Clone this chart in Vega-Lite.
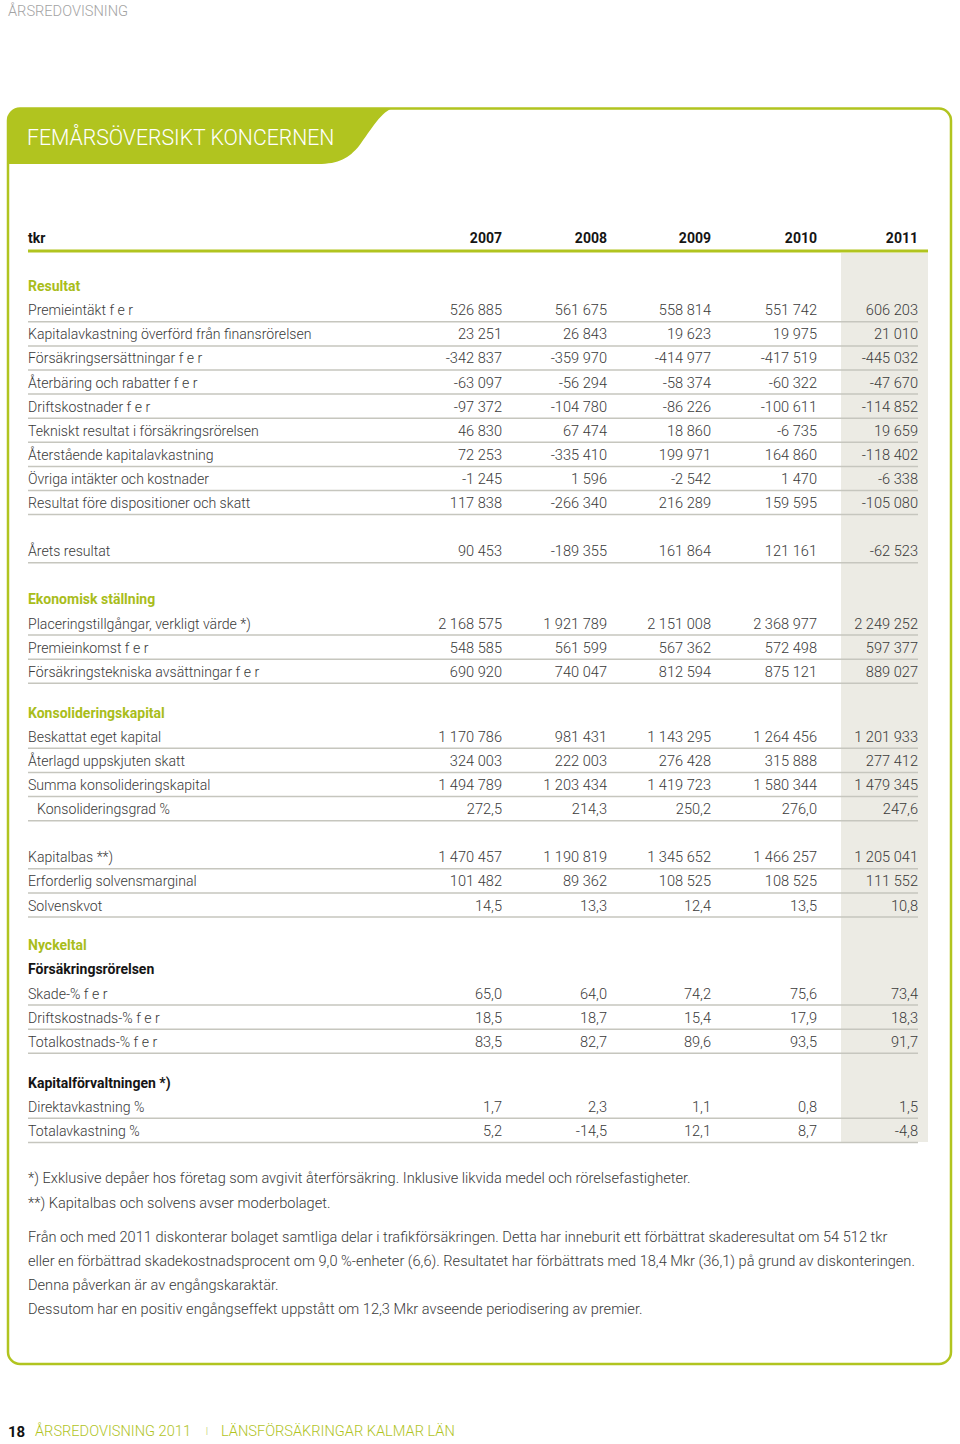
{
  "$schema": "https://vega.github.io/schema/vega-lite/v6.json",
  "width": 960,
  "height": 1444,
  "padding": 0,
  "autosize": {"type": "none"},
  "background": "white",
  "config": {
    "view": {"stroke": null},
    "axis": {"disable": true},
    "legend": {"disable": true},
    "text": {"font": "Roboto"},
    "locale": {"number": {"decimal": ",", "thousands": " ", "grouping": [3], "currency": ["", " kr"], "minus": "-"}}
  },
  "datasets": {
    "rows": [
      {"line": 0, "label": "tkr", "type": "header"},
      {"line": 2, "label": "Resultat", "type": "section"},
      {"line": 3, "label": "Premieintäkt f e r", "type": "item"},
      {"line": 4, "label": "Kapitalavkastning överförd från finansrörelsen", "type": "item"},
      {"line": 5, "label": "Försäkringsersättningar f e r", "type": "item"},
      {"line": 6, "label": "Återbäring och rabatter f e r", "type": "item"},
      {"line": 7, "label": "Driftskostnader f e r", "type": "item"},
      {"line": 8, "label": "Tekniskt resultat i försäkringsrörelsen", "type": "item"},
      {"line": 9, "label": "Återstående kapitalavkastning", "type": "item"},
      {"line": 10, "label": "Övriga intäkter och kostnader", "type": "item"},
      {"line": 11, "label": "Resultat före dispositioner och skatt", "type": "item"},
      {"line": 13, "label": "Årets resultat", "type": "item"},
      {"line": 15, "label": "Ekonomisk ställning", "type": "section"},
      {"line": 16, "label": "Placeringstillgångar, verkligt värde *)", "type": "item"},
      {"line": 17, "label": "Premieinkomst f e r", "type": "item"},
      {"line": 18, "label": "Försäkringstekniska avsättningar f e r", "type": "item"},
      {"line": 19.7, "label": "Konsolideringskapital", "type": "section"},
      {"line": 20.7, "label": "Beskattat eget kapital", "type": "item"},
      {"line": 21.7, "label": "Återlagd uppskjuten skatt", "type": "item"},
      {"line": 22.7, "label": "Summa konsolideringskapital", "type": "item"},
      {"line": 23.7, "label": "Konsolideringsgrad %", "type": "subitem"},
      {"line": 25.7, "label": "Kapitalbas **)", "type": "item"},
      {"line": 26.7, "label": "Erforderlig solvensmarginal", "type": "item"},
      {"line": 27.7, "label": "Solvenskvot", "type": "item"},
      {"line": 29.35, "label": "Nyckeltal", "type": "section"},
      {"line": 30.35, "label": "Försäkringsrörelsen", "type": "subhead"},
      {"line": 31.35, "label": "Skade-% f e r", "type": "item"},
      {"line": 32.35, "label": "Driftskostnads-% f e r", "type": "item"},
      {"line": 33.35, "label": "Totalkostnads-% f e r", "type": "item"},
      {"line": 35.05, "label": "Kapitalförvaltningen *)", "type": "subhead"},
      {"line": 36.05, "label": "Direktavkastning %", "type": "item"},
      {"line": 37.05, "label": "Totalavkastning %", "type": "item"}
    ],
    "years": [{"year": 2007}, {"year": 2008}, {"year": 2009}, {"year": 2010}, {"year": 2011}],
    "cells": [
      {"line": 3, "year": 2007, "value": 526885, "unit": "tkr"},
      {"line": 3, "year": 2008, "value": 561675, "unit": "tkr"},
      {"line": 3, "year": 2009, "value": 558814, "unit": "tkr"},
      {"line": 3, "year": 2010, "value": 551742, "unit": "tkr"},
      {"line": 3, "year": 2011, "value": 606203, "unit": "tkr"},
      {"line": 4, "year": 2007, "value": 23251, "unit": "tkr"},
      {"line": 4, "year": 2008, "value": 26843, "unit": "tkr"},
      {"line": 4, "year": 2009, "value": 19623, "unit": "tkr"},
      {"line": 4, "year": 2010, "value": 19975, "unit": "tkr"},
      {"line": 4, "year": 2011, "value": 21010, "unit": "tkr"},
      {"line": 5, "year": 2007, "value": -342837, "unit": "tkr"},
      {"line": 5, "year": 2008, "value": -359970, "unit": "tkr"},
      {"line": 5, "year": 2009, "value": -414977, "unit": "tkr"},
      {"line": 5, "year": 2010, "value": -417519, "unit": "tkr"},
      {"line": 5, "year": 2011, "value": -445032, "unit": "tkr"},
      {"line": 6, "year": 2007, "value": -63097, "unit": "tkr"},
      {"line": 6, "year": 2008, "value": -56294, "unit": "tkr"},
      {"line": 6, "year": 2009, "value": -58374, "unit": "tkr"},
      {"line": 6, "year": 2010, "value": -60322, "unit": "tkr"},
      {"line": 6, "year": 2011, "value": -47670, "unit": "tkr"},
      {"line": 7, "year": 2007, "value": -97372, "unit": "tkr"},
      {"line": 7, "year": 2008, "value": -104780, "unit": "tkr"},
      {"line": 7, "year": 2009, "value": -86226, "unit": "tkr"},
      {"line": 7, "year": 2010, "value": -100611, "unit": "tkr"},
      {"line": 7, "year": 2011, "value": -114852, "unit": "tkr"},
      {"line": 8, "year": 2007, "value": 46830, "unit": "tkr"},
      {"line": 8, "year": 2008, "value": 67474, "unit": "tkr"},
      {"line": 8, "year": 2009, "value": 18860, "unit": "tkr"},
      {"line": 8, "year": 2010, "value": -6735, "unit": "tkr"},
      {"line": 8, "year": 2011, "value": 19659, "unit": "tkr"},
      {"line": 9, "year": 2007, "value": 72253, "unit": "tkr"},
      {"line": 9, "year": 2008, "value": -335410, "unit": "tkr"},
      {"line": 9, "year": 2009, "value": 199971, "unit": "tkr"},
      {"line": 9, "year": 2010, "value": 164860, "unit": "tkr"},
      {"line": 9, "year": 2011, "value": -118402, "unit": "tkr"},
      {"line": 10, "year": 2007, "value": -1245, "unit": "tkr"},
      {"line": 10, "year": 2008, "value": 1596, "unit": "tkr"},
      {"line": 10, "year": 2009, "value": -2542, "unit": "tkr"},
      {"line": 10, "year": 2010, "value": 1470, "unit": "tkr"},
      {"line": 10, "year": 2011, "value": -6338, "unit": "tkr"},
      {"line": 11, "year": 2007, "value": 117838, "unit": "tkr"},
      {"line": 11, "year": 2008, "value": -266340, "unit": "tkr"},
      {"line": 11, "year": 2009, "value": 216289, "unit": "tkr"},
      {"line": 11, "year": 2010, "value": 159595, "unit": "tkr"},
      {"line": 11, "year": 2011, "value": -105080, "unit": "tkr"},
      {"line": 13, "year": 2007, "value": 90453, "unit": "tkr"},
      {"line": 13, "year": 2008, "value": -189355, "unit": "tkr"},
      {"line": 13, "year": 2009, "value": 161864, "unit": "tkr"},
      {"line": 13, "year": 2010, "value": 121161, "unit": "tkr"},
      {"line": 13, "year": 2011, "value": -62523, "unit": "tkr"},
      {"line": 16, "year": 2007, "value": 2168575, "unit": "tkr"},
      {"line": 16, "year": 2008, "value": 1921789, "unit": "tkr"},
      {"line": 16, "year": 2009, "value": 2151008, "unit": "tkr"},
      {"line": 16, "year": 2010, "value": 2368977, "unit": "tkr"},
      {"line": 16, "year": 2011, "value": 2249252, "unit": "tkr"},
      {"line": 17, "year": 2007, "value": 548585, "unit": "tkr"},
      {"line": 17, "year": 2008, "value": 561599, "unit": "tkr"},
      {"line": 17, "year": 2009, "value": 567362, "unit": "tkr"},
      {"line": 17, "year": 2010, "value": 572498, "unit": "tkr"},
      {"line": 17, "year": 2011, "value": 597377, "unit": "tkr"},
      {"line": 18, "year": 2007, "value": 690920, "unit": "tkr"},
      {"line": 18, "year": 2008, "value": 740047, "unit": "tkr"},
      {"line": 18, "year": 2009, "value": 812594, "unit": "tkr"},
      {"line": 18, "year": 2010, "value": 875121, "unit": "tkr"},
      {"line": 18, "year": 2011, "value": 889027, "unit": "tkr"},
      {"line": 20.7, "year": 2007, "value": 1170786, "unit": "tkr"},
      {"line": 20.7, "year": 2008, "value": 981431, "unit": "tkr"},
      {"line": 20.7, "year": 2009, "value": 1143295, "unit": "tkr"},
      {"line": 20.7, "year": 2010, "value": 1264456, "unit": "tkr"},
      {"line": 20.7, "year": 2011, "value": 1201933, "unit": "tkr"},
      {"line": 21.7, "year": 2007, "value": 324003, "unit": "tkr"},
      {"line": 21.7, "year": 2008, "value": 222003, "unit": "tkr"},
      {"line": 21.7, "year": 2009, "value": 276428, "unit": "tkr"},
      {"line": 21.7, "year": 2010, "value": 315888, "unit": "tkr"},
      {"line": 21.7, "year": 2011, "value": 277412, "unit": "tkr"},
      {"line": 22.7, "year": 2007, "value": 1494789, "unit": "tkr"},
      {"line": 22.7, "year": 2008, "value": 1203434, "unit": "tkr"},
      {"line": 22.7, "year": 2009, "value": 1419723, "unit": "tkr"},
      {"line": 22.7, "year": 2010, "value": 1580344, "unit": "tkr"},
      {"line": 22.7, "year": 2011, "value": 1479345, "unit": "tkr"},
      {"line": 23.7, "year": 2007, "value": 272.5, "unit": "ratio"},
      {"line": 23.7, "year": 2008, "value": 214.3, "unit": "ratio"},
      {"line": 23.7, "year": 2009, "value": 250.2, "unit": "ratio"},
      {"line": 23.7, "year": 2010, "value": 276.0, "unit": "ratio"},
      {"line": 23.7, "year": 2011, "value": 247.6, "unit": "ratio"},
      {"line": 25.7, "year": 2007, "value": 1470457, "unit": "tkr"},
      {"line": 25.7, "year": 2008, "value": 1190819, "unit": "tkr"},
      {"line": 25.7, "year": 2009, "value": 1345652, "unit": "tkr"},
      {"line": 25.7, "year": 2010, "value": 1466257, "unit": "tkr"},
      {"line": 25.7, "year": 2011, "value": 1205041, "unit": "tkr"},
      {"line": 26.7, "year": 2007, "value": 101482, "unit": "tkr"},
      {"line": 26.7, "year": 2008, "value": 89362, "unit": "tkr"},
      {"line": 26.7, "year": 2009, "value": 108525, "unit": "tkr"},
      {"line": 26.7, "year": 2010, "value": 108525, "unit": "tkr"},
      {"line": 26.7, "year": 2011, "value": 111552, "unit": "tkr"},
      {"line": 27.7, "year": 2007, "value": 14.5, "unit": "ratio"},
      {"line": 27.7, "year": 2008, "value": 13.3, "unit": "ratio"},
      {"line": 27.7, "year": 2009, "value": 12.4, "unit": "ratio"},
      {"line": 27.7, "year": 2010, "value": 13.5, "unit": "ratio"},
      {"line": 27.7, "year": 2011, "value": 10.8, "unit": "ratio"},
      {"line": 31.35, "year": 2007, "value": 65.0, "unit": "ratio"},
      {"line": 31.35, "year": 2008, "value": 64.0, "unit": "ratio"},
      {"line": 31.35, "year": 2009, "value": 74.2, "unit": "ratio"},
      {"line": 31.35, "year": 2010, "value": 75.6, "unit": "ratio"},
      {"line": 31.35, "year": 2011, "value": 73.4, "unit": "ratio"},
      {"line": 32.35, "year": 2007, "value": 18.5, "unit": "ratio"},
      {"line": 32.35, "year": 2008, "value": 18.7, "unit": "ratio"},
      {"line": 32.35, "year": 2009, "value": 15.4, "unit": "ratio"},
      {"line": 32.35, "year": 2010, "value": 17.9, "unit": "ratio"},
      {"line": 32.35, "year": 2011, "value": 18.3, "unit": "ratio"},
      {"line": 33.35, "year": 2007, "value": 83.5, "unit": "ratio"},
      {"line": 33.35, "year": 2008, "value": 82.7, "unit": "ratio"},
      {"line": 33.35, "year": 2009, "value": 89.6, "unit": "ratio"},
      {"line": 33.35, "year": 2010, "value": 93.5, "unit": "ratio"},
      {"line": 33.35, "year": 2011, "value": 91.7, "unit": "ratio"},
      {"line": 36.05, "year": 2007, "value": 1.7, "unit": "ratio"},
      {"line": 36.05, "year": 2008, "value": 2.3, "unit": "ratio"},
      {"line": 36.05, "year": 2009, "value": 1.1, "unit": "ratio"},
      {"line": 36.05, "year": 2010, "value": 0.8, "unit": "ratio"},
      {"line": 36.05, "year": 2011, "value": 1.5, "unit": "ratio"},
      {"line": 37.05, "year": 2007, "value": 5.2, "unit": "ratio"},
      {"line": 37.05, "year": 2008, "value": -14.5, "unit": "ratio"},
      {"line": 37.05, "year": 2009, "value": 12.1, "unit": "ratio"},
      {"line": 37.05, "year": 2010, "value": 8.7, "unit": "ratio"},
      {"line": 37.05, "year": 2011, "value": -4.8, "unit": "ratio"}
    ],
    "notes": [
      {"line": 39.0, "text": "*) Exklusive depåer hos företag som avgivit återförsäkring. Inklusive likvida medel och rörelsefastigheter."},
      {"line": 40.05, "text": "**) Kapitalbas och solvens avser moderbolaget."},
      {"line": 41.45, "text": "Från och med 2011 diskonterar bolaget samtliga delar i trafikförsäkringen. Detta har inneburit ett förbättrat skaderesultat om 54 512 tkr"},
      {"line": 42.45, "text": "eller en förbättrad skadekostnadsprocent om 9,0 %-enheter (6,6). Resultatet har förbättrats med 18,4 Mkr (36,1) på grund av diskonteringen."},
      {"line": 43.45, "text": "Denna påverkan är av engångskaraktär."},
      {"line": 44.45, "text": "Dessutom har en positiv engångseffekt uppstått om 12,3 Mkr avseende periodisering av premier."}
    ]
  },
  "layer": [
    {
      "data": {"values": [{}]},
      "mark": {"type": "rect", "fillOpacity": 0, "stroke": "#b1c41f", "strokeWidth": 2.5, "cornerRadius": 12},
      "encoding": {
        "x": {"datum": 2002.25, "scale": {"type": "linear", "domain": [2002, 2007, 2008, 2009, 2010, 2011, 2012], "range": [-18, 502, 607, 711, 817, 918, 1022], "nice": false, "zero": false}},
        "x2": {"datum": 2011.3173},
        "y": {"datum": -5.4149, "scale": {"type": "linear", "domain": [-9.917, 50], "range": [0, 1444], "nice": false, "zero": false}},
        "y2": {"datum": 46.68}
      }
    },
    {
      "data": {"values": [{}]},
      "mark": {"type": "rect", "color": "#ecebe4"},
      "encoding": {
        "x": {"datum": 2010.2376, "scale": {"type": "linear", "domain": [2002, 2007, 2008, 2009, 2010, 2011, 2012], "range": [-18, 502, 607, 711, 817, 918, 1022], "nice": false, "zero": false}},
        "x2": {"datum": 2011.0962},
        "y": {"datum": 0.581, "scale": {"type": "linear", "domain": [-9.917, 50], "range": [0, 1444], "nice": false, "zero": false}},
        "y2": {"datum": 37.469}
      }
    },
    {
      "data": {"values": [{}]},
      "mark": {"type": "point", "shape": "M0,56 L0,16 Q0,0 16,0 L386,0 C374,2 363,22 351,38 C341,50 331,56 310,56 Z", "size": 4, "filled": true, "color": "#b1c41f", "opacity": 1, "strokeWidth": 0},
      "encoding": {
        "x": {"datum": 2002.25, "scale": {"type": "linear", "domain": [2002, 2007, 2008, 2009, 2010, 2011, 2012], "range": [-18, 502, 607, 711, 817, 918, 1022], "nice": false, "zero": false}},
        "y": {"datum": -5.4357, "scale": {"type": "linear", "domain": [-9.917, 50], "range": [0, 1444], "nice": false, "zero": false}}
      }
    },
    {
      "data": {"values": [{}]},
      "mark": {"type": "rule", "color": "#b1c41f", "strokeWidth": 3},
      "encoding": {
        "x": {"datum": 2002.4423, "scale": {"type": "linear", "domain": [2002, 2007, 2008, 2009, 2010, 2011, 2012], "range": [-18, 502, 607, 711, 817, 918, 1022], "nice": false, "zero": false}},
        "x2": {"datum": 2011.0962},
        "y": {"datum": 0.498, "scale": {"type": "linear", "domain": [-9.917, 50], "range": [0, 1444], "nice": false, "zero": false}}
      }
    },
    {
      "data": {"name": "rows"},
      "transform": [{"filter": "datum.type === 'item' || datum.type === 'subitem'"}],
      "mark": {"type": "rule", "color": "#c6c6be", "strokeWidth": 1.5, "yOffset": 10.5},
      "encoding": {
        "x": {"datum": 2002.4423, "scale": {"type": "linear", "domain": [2002, 2007, 2008, 2009, 2010, 2011, 2012], "range": [-18, 502, 607, 711, 817, 918, 1022], "nice": false, "zero": false}},
        "x2": {"datum": 2011},
        "y": {"field": "line", "type": "quantitative", "scale": {"type": "linear", "domain": [-9.917, 50], "range": [0, 1444], "nice": false, "zero": false}}
      }
    },
    {
      "data": {"name": "rows"},
      "transform": [{"filter": "datum.type === 'item'"}],
      "mark": {"type": "text", "align": "left", "baseline": "middle", "fontSize": 14.1, "fontWeight": 300, "color": "#3a3a3a"},
      "encoding": {
        "x": {"datum": 2002.4423, "scale": {"type": "linear", "domain": [2002, 2007, 2008, 2009, 2010, 2011, 2012], "range": [-18, 502, 607, 711, 817, 918, 1022], "nice": false, "zero": false}},
        "y": {"field": "line", "type": "quantitative", "scale": {"type": "linear", "domain": [-9.917, 50], "range": [0, 1444], "nice": false, "zero": false}},
        "text": {"field": "label", "type": "nominal"}
      }
    },
    {
      "data": {"name": "rows"},
      "transform": [{"filter": "datum.type === 'subitem'"}],
      "mark": {"type": "text", "align": "left", "baseline": "middle", "fontSize": 14.1, "fontWeight": 300, "color": "#3a3a3a", "dx": 9},
      "encoding": {
        "x": {"datum": 2002.4423, "scale": {"type": "linear", "domain": [2002, 2007, 2008, 2009, 2010, 2011, 2012], "range": [-18, 502, 607, 711, 817, 918, 1022], "nice": false, "zero": false}},
        "y": {"field": "line", "type": "quantitative", "scale": {"type": "linear", "domain": [-9.917, 50], "range": [0, 1444], "nice": false, "zero": false}},
        "text": {"field": "label", "type": "nominal"}
      }
    },
    {
      "data": {"name": "rows"},
      "transform": [{"filter": "datum.type === 'section'"}],
      "mark": {"type": "text", "align": "left", "baseline": "middle", "fontSize": 14, "fontWeight": "bold", "color": "#a9bd1b"},
      "encoding": {
        "x": {"datum": 2002.4423, "scale": {"type": "linear", "domain": [2002, 2007, 2008, 2009, 2010, 2011, 2012], "range": [-18, 502, 607, 711, 817, 918, 1022], "nice": false, "zero": false}},
        "y": {"field": "line", "type": "quantitative", "scale": {"type": "linear", "domain": [-9.917, 50], "range": [0, 1444], "nice": false, "zero": false}},
        "text": {"field": "label", "type": "nominal"}
      }
    },
    {
      "data": {"name": "rows"},
      "transform": [{"filter": "datum.type === 'header' || datum.type === 'subhead'"}],
      "mark": {"type": "text", "align": "left", "baseline": "middle", "fontSize": 14, "fontWeight": "bold", "color": "#151515"},
      "encoding": {
        "x": {"datum": 2002.4423, "scale": {"type": "linear", "domain": [2002, 2007, 2008, 2009, 2010, 2011, 2012], "range": [-18, 502, 607, 711, 817, 918, 1022], "nice": false, "zero": false}},
        "y": {"field": "line", "type": "quantitative", "scale": {"type": "linear", "domain": [-9.917, 50], "range": [0, 1444], "nice": false, "zero": false}},
        "text": {"field": "label", "type": "nominal"}
      }
    },
    {
      "data": {"name": "years"},
      "mark": {"type": "text", "align": "right", "baseline": "middle", "fontSize": 14, "fontWeight": "bold", "color": "#151515"},
      "encoding": {
        "x": {"field": "year", "type": "quantitative", "scale": {"type": "linear", "domain": [2002, 2007, 2008, 2009, 2010, 2011, 2012], "range": [-18, 502, 607, 711, 817, 918, 1022], "nice": false, "zero": false}},
        "y": {"datum": 0, "scale": {"type": "linear", "domain": [-9.917, 50], "range": [0, 1444], "nice": false, "zero": false}},
        "text": {"field": "year", "type": "quantitative", "format": "d"}
      }
    },
    {
      "data": {"name": "cells"},
      "transform": [{"filter": "datum.unit === 'tkr'"}],
      "mark": {"type": "text", "align": "right", "baseline": "middle", "fontSize": 14.6, "fontWeight": 300, "color": "#3a3a3a"},
      "encoding": {
        "x": {"field": "year", "type": "quantitative", "scale": {"type": "linear", "domain": [2002, 2007, 2008, 2009, 2010, 2011, 2012], "range": [-18, 502, 607, 711, 817, 918, 1022], "nice": false, "zero": false}},
        "y": {"field": "line", "type": "quantitative", "scale": {"type": "linear", "domain": [-9.917, 50], "range": [0, 1444], "nice": false, "zero": false}},
        "text": {"field": "value", "type": "quantitative", "format": ",d"}
      }
    },
    {
      "data": {"name": "cells"},
      "transform": [{"filter": "datum.unit === 'ratio'"}],
      "mark": {"type": "text", "align": "right", "baseline": "middle", "fontSize": 14.6, "fontWeight": 300, "color": "#3a3a3a"},
      "encoding": {
        "x": {"field": "year", "type": "quantitative", "scale": {"type": "linear", "domain": [2002, 2007, 2008, 2009, 2010, 2011, 2012], "range": [-18, 502, 607, 711, 817, 918, 1022], "nice": false, "zero": false}},
        "y": {"field": "line", "type": "quantitative", "scale": {"type": "linear", "domain": [-9.917, 50], "range": [0, 1444], "nice": false, "zero": false}},
        "text": {"field": "value", "type": "quantitative", "format": ".1f"}
      }
    },
    {
      "data": {"name": "notes"},
      "mark": {"type": "text", "align": "left", "baseline": "middle", "fontSize": 14.6, "fontWeight": 300, "color": "#3a3a3a"},
      "encoding": {
        "x": {"datum": 2002.4423, "scale": {"type": "linear", "domain": [2002, 2007, 2008, 2009, 2010, 2011, 2012], "range": [-18, 502, 607, 711, 817, 918, 1022], "nice": false, "zero": false}},
        "y": {"field": "line", "type": "quantitative", "scale": {"type": "linear", "domain": [-9.917, 50], "range": [0, 1444], "nice": false, "zero": false}},
        "text": {"field": "text", "type": "nominal"}
      }
    },
    {
      "data": {"values": [{}]},
      "mark": {"type": "text", "align": "left", "baseline": "middle", "fontSize": 14.6, "fontWeight": 300, "color": "#a3a3a3", "text": "ÅRSREDOVISNING"},
      "encoding": {
        "x": {"datum": 2002.25, "scale": {"type": "linear", "domain": [2002, 2007, 2008, 2009, 2010, 2011, 2012], "range": [-18, 502, 607, 711, 817, 918, 1022], "nice": false, "zero": false}},
        "y": {"datum": -9.419, "scale": {"type": "linear", "domain": [-9.917, 50], "range": [0, 1444], "nice": false, "zero": false}}
      }
    },
    {
      "data": {"values": [{}]},
      "mark": {"type": "text", "align": "left", "baseline": "middle", "fontSize": 21.2, "fontWeight": 300, "color": "#ffffff", "text": "FEMÅRSÖVERSIKT KONCERNEN"},
      "encoding": {
        "x": {"datum": 2002.4327, "scale": {"type": "linear", "domain": [2002, 2007, 2008, 2009, 2010, 2011, 2012], "range": [-18, 502, 607, 711, 817, 918, 1022], "nice": false, "zero": false}},
        "y": {"datum": -4.1494, "scale": {"type": "linear", "domain": [-9.917, 50], "range": [0, 1444], "nice": false, "zero": false}}
      }
    },
    {
      "data": {"values": [{}]},
      "mark": {"type": "text", "align": "left", "baseline": "middle", "fontSize": 15, "fontWeight": "bold", "color": "#111111", "text": "18"},
      "encoding": {
        "x": {"datum": 2002.25, "scale": {"type": "linear", "domain": [2002, 2007, 2008, 2009, 2010, 2011, 2012], "range": [-18, 502, 607, 711, 817, 918, 1022], "nice": false, "zero": false}},
        "y": {"datum": 49.502, "scale": {"type": "linear", "domain": [-9.917, 50], "range": [0, 1444], "nice": false, "zero": false}}
      }
    },
    {
      "data": {"values": [{}]},
      "mark": {"type": "text", "align": "left", "baseline": "middle", "fontSize": 14.6, "fontWeight": 300, "color": "#b1c41f", "text": "ÅRSREDOVISNING 2011"},
      "encoding": {
        "x": {"datum": 2002.5096, "scale": {"type": "linear", "domain": [2002, 2007, 2008, 2009, 2010, 2011, 2012], "range": [-18, 502, 607, 711, 817, 918, 1022], "nice": false, "zero": false}},
        "y": {"datum": 49.502, "scale": {"type": "linear", "domain": [-9.917, 50], "range": [0, 1444], "nice": false, "zero": false}}
      }
    },
    {
      "data": {"values": [{}]},
      "mark": {"type": "text", "align": "center", "baseline": "middle", "fontSize": 11, "fontWeight": 300, "color": "#c9d47a", "text": "I"},
      "encoding": {
        "x": {"datum": 2004.1635, "scale": {"type": "linear", "domain": [2002, 2007, 2008, 2009, 2010, 2011, 2012], "range": [-18, 502, 607, 711, 817, 918, 1022], "nice": false, "zero": false}},
        "y": {"datum": 49.502, "scale": {"type": "linear", "domain": [-9.917, 50], "range": [0, 1444], "nice": false, "zero": false}}
      }
    },
    {
      "data": {"values": [{}]},
      "mark": {"type": "text", "align": "left", "baseline": "middle", "fontSize": 14.6, "fontWeight": 300, "color": "#b1c41f", "text": "LÄNSFÖRSÄKRINGAR KALMAR LÄN"},
      "encoding": {
        "x": {"datum": 2004.2981, "scale": {"type": "linear", "domain": [2002, 2007, 2008, 2009, 2010, 2011, 2012], "range": [-18, 502, 607, 711, 817, 918, 1022], "nice": false, "zero": false}},
        "y": {"datum": 49.502, "scale": {"type": "linear", "domain": [-9.917, 50], "range": [0, 1444], "nice": false, "zero": false}}
      }
    }
  ]
}
